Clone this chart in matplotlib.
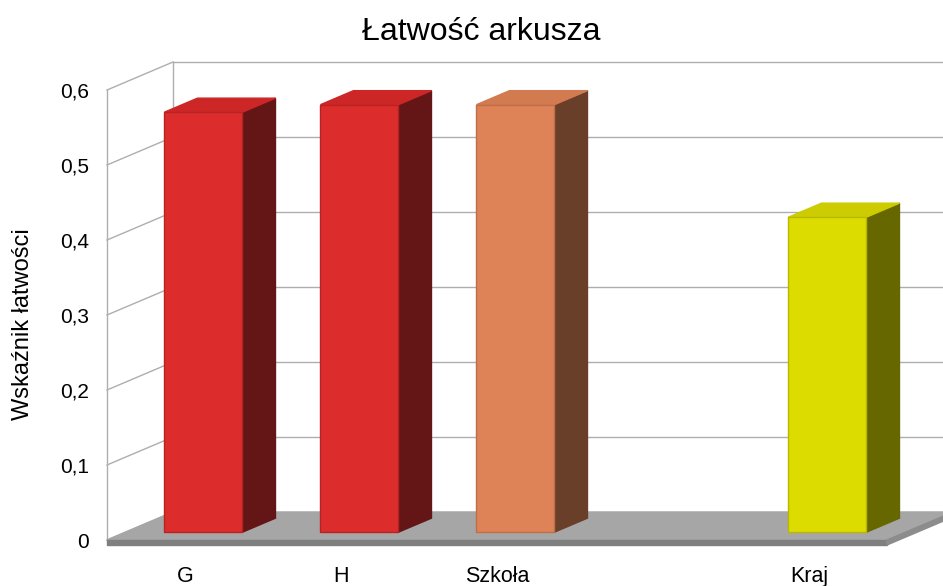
import matplotlib.pyplot as plt

plt.rcParams['font.family'] = ['Liberation Sans', 'DejaVu Sans']

# data
categories = ["G", "H", "Szkoła", "", "Kraj"]
values = [0.56, 0.57, 0.57, None, 0.42]
front_colors = ["#DC2C2C", "#DC2C2C", "#DE8358", None, "#DCDC00"]
edge_colors = ["#B82222", "#B82222", "#BE6E48", None, "#B8B800"]
side_colors = ["#641515", "#641515", "#6A3F2A", None, "#676700"]
top_colors = ["#CC2626", "#CC2626", "#D27A50", None, "#CCCC00"]
yticks = [0, 0.1, 0.2, 0.3, 0.4, 0.5, 0.6]
ytick_labels = ["0", "0,1", "0,2", "0,3", "0,4", "0,5", "0,6"]

W, H = 943, 586
fig = plt.figure(figsize=(W / 100, H / 100), dpi=100)
# axes = the front plane of the 3d box
ax = fig.add_axes([107 / W, (H - 540) / H, 780 / W, 450 / H])
ax.set_xlim(-0.5, 4.5)
ax.set_ylim(0, 0.6)

# depth of the box (in data units) and bar placement inside it
DX = 66 / 156.0
DY = 28 / 750.0
f0, f1 = 0.28, 0.78
grid_c = "#AEAEAE"

# walls + gridlines
x0, x1 = -0.5, 4.5
for v in yticks:
    ax.plot([x0, x0 + DX], [v, v + DY], color=grid_c, lw=1, zorder=1, clip_on=False)
    ax.plot([x0 + DX, x1 + DX], [v + DY, v + DY], color=grid_c, lw=1, zorder=1, clip_on=False)
ax.plot([x0, x0], [0, 0.6], color=grid_c, lw=1, zorder=1, clip_on=False)
ax.plot([x0 + DX, x0 + DX], [DY, 0.6 + DY], color=grid_c, lw=1, zorder=1, clip_on=False)

# floor
t = 5 / 750.0
ax.fill([x0, x1, x1 + DX, x0 + DX], [0, 0, DY, DY], color="#A6A6A6", zorder=2, clip_on=False)
ax.fill([x0, x1, x1, x0], [0, 0, -t, -t], color="#7F7F7F", zorder=2, clip_on=False)
ax.fill([x1, x1 + DX, x1 + DX, x1], [0, DY, DY - t, -t], color="#8C8C8C", zorder=2, clip_on=False)

# bars
bw = 0.5
bd_x = (f1 - f0) * DX
bd_y = (f1 - f0) * DY
for i, v in enumerate(values):
    if v is None:
        continue
    xl = i + f0 * DX - bw / 2
    xr = xl + bw
    yb = f0 * DY
    ax.bar(i + f0 * DX, v, width=bw, bottom=yb, color=front_colors[i], zorder=5,
           clip_on=False, edgecolor=edge_colors[i], lw=1)
    # side face
    ax.fill([xr, xr + bd_x, xr + bd_x, xr], [yb, yb + bd_y, yb + v + bd_y, yb + v],
            color=side_colors[i], zorder=4, clip_on=False)
    # top face
    ax.fill([xl, xr, xr + bd_x, xl + bd_x], [yb + v, yb + v, yb + v + bd_y, yb + v + bd_y],
            color=top_colors[i], zorder=4, clip_on=False)

for s in ax.spines.values():
    s.set_visible(False)
ax.patch.set_visible(False)

ax.set_yticks(yticks)
ax.set_yticklabels(ytick_labels)
ax.set_xticks(range(len(categories)))
ax.set_xticklabels(categories)
ax.tick_params(axis="y", length=0, pad=13, labelsize=15)
ax.tick_params(axis="x", length=0, pad=19, labelsize=15.5)

ax.set_ylabel("Wskaźnik łatwości", fontsize=17)
ax.yaxis.set_label_coords(-0.094, 0.48)

fig.text(481 / W, 1 - 40 / H, "Łatwość arkusza", fontsize=23, ha="center", va="baseline")

fig.savefig("out.png", dpi=100)
